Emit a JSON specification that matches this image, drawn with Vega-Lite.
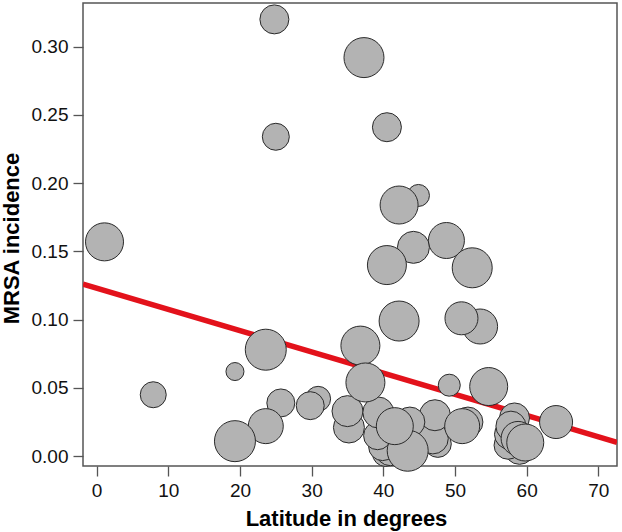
{
  "$schema": "https://vega.github.io/schema/vega-lite/v6.json",
  "width": 534,
  "height": 463,
  "autosize": {"type": "none"},
  "padding": {"left": 83, "top": 3, "right": 5, "bottom": 66},
  "background": "white",
  "config": {
    "view": {"stroke": "#555555", "strokeWidth": 1.5},
    "font": "Liberation Sans",
    "axis": {
      "domain": false,
      "grid": false,
      "tickColor": "#555555",
      "tickWidth": 1.3,
      "tickSize": 10,
      "labelFont": "Liberation Sans",
      "labelFontSize": 19,
      "labelColor": "#111111",
      "labelPadding": 5,
      "titleFont": "Liberation Sans",
      "titleFontSize": 22,
      "titleFontWeight": "bold",
      "titleColor": "#000000"
    }
  },
  "encoding": {
    "x": {
      "field": "lat",
      "type": "quantitative",
      "scale": {"domain": [-1.9, 72.6], "nice": false, "zero": false},
      "axis": {
        "title": "Latitude in degrees",
        "values": [0, 10, 20, 30, 40, 50, 60, 70],
        "format": "d",
        "titleX": 263,
        "titleY": 59,
        "titleBaseline": "alphabetic"
      }
    },
    "y": {
      "field": "mrsa",
      "type": "quantitative",
      "scale": {"domain": [-0.0072, 0.332], "nice": false, "zero": false},
      "axis": {
        "title": "MRSA incidence",
        "values": [0, 0.05, 0.1, 0.15, 0.2, 0.25, 0.3],
        "format": ".2f",
        "titleX": -65,
        "titleY": 235,
        "titleAngle": 270,
        "titleAlign": "center",
        "titleBaseline": "alphabetic"
      }
    }
  },
  "layer": [
    {
      "data": {"values": [
        {"lat": -1.9, "mrsa": 0.126},
        {"lat": 72.6, "mrsa": 0.0102}
      ]},
      "mark": {"type": "line", "color": "#e3121b", "strokeWidth": 5.5, "clip": true}
    },
    {
      "data": {"values": [
        {"lat": 24.8, "mrsa": 0.320, "d": 29},
        {"lat": 37.3, "mrsa": 0.292, "d": 40},
        {"lat": 25.0, "mrsa": 0.234, "d": 27},
        {"lat": 40.5, "mrsa": 0.241, "d": 29},
        {"lat": 1.1, "mrsa": 0.157, "d": 38},
        {"lat": 44.9, "mrsa": 0.191, "d": 22},
        {"lat": 42.2, "mrsa": 0.184, "d": 38},
        {"lat": 48.8, "mrsa": 0.158, "d": 36},
        {"lat": 44.2, "mrsa": 0.153, "d": 32},
        {"lat": 40.5, "mrsa": 0.140, "d": 39},
        {"lat": 52.4, "mrsa": 0.138, "d": 40},
        {"lat": 42.2, "mrsa": 0.099, "d": 40},
        {"lat": 53.5, "mrsa": 0.095, "d": 35},
        {"lat": 50.9, "mrsa": 0.101, "d": 33},
        {"lat": 23.6, "mrsa": 0.078, "d": 41},
        {"lat": 36.8, "mrsa": 0.081, "d": 39},
        {"lat": 19.3, "mrsa": 0.062, "d": 18},
        {"lat": 7.9, "mrsa": 0.045, "d": 26},
        {"lat": 49.2, "mrsa": 0.052, "d": 22},
        {"lat": 54.7, "mrsa": 0.051, "d": 38},
        {"lat": 25.7, "mrsa": 0.039, "d": 28},
        {"lat": 30.9, "mrsa": 0.042, "d": 25},
        {"lat": 29.8, "mrsa": 0.037, "d": 28},
        {"lat": 23.6, "mrsa": 0.022, "d": 35},
        {"lat": 19.3, "mrsa": 0.011, "d": 41},
        {"lat": 35.2, "mrsa": 0.021, "d": 31},
        {"lat": 35.0, "mrsa": 0.033, "d": 31},
        {"lat": 64.1, "mrsa": 0.025, "d": 33},
        {"lat": 40.3, "mrsa": 0.002, "d": 26},
        {"lat": 41.0, "mrsa": 0.004, "d": 30},
        {"lat": 39.9, "mrsa": 0.007, "d": 28},
        {"lat": 39.2, "mrsa": 0.015, "d": 28},
        {"lat": 39.3, "mrsa": 0.032, "d": 31},
        {"lat": 37.5, "mrsa": 0.054, "d": 39},
        {"lat": 45.0, "mrsa": 0.018, "d": 30},
        {"lat": 47.6, "mrsa": 0.009, "d": 27},
        {"lat": 46.9, "mrsa": 0.013, "d": 31},
        {"lat": 47.2, "mrsa": 0.030, "d": 31},
        {"lat": 51.8, "mrsa": 0.025, "d": 30},
        {"lat": 51.0, "mrsa": 0.022, "d": 35},
        {"lat": 43.7, "mrsa": 0.025, "d": 30},
        {"lat": 43.4, "mrsa": 0.004, "d": 41},
        {"lat": 41.6, "mrsa": 0.022, "d": 37},
        {"lat": 58.3, "mrsa": 0.028, "d": 30},
        {"lat": 59.0, "mrsa": 0.005, "d": 30},
        {"lat": 57.4, "mrsa": 0.008, "d": 28},
        {"lat": 57.6, "mrsa": 0.016, "d": 30},
        {"lat": 57.8, "mrsa": 0.022, "d": 30},
        {"lat": 58.8, "mrsa": 0.013, "d": 34},
        {"lat": 59.8, "mrsa": 0.010, "d": 37}
      ]},
      "mark": {"type": "point", "filled": true, "shape": "circle", "fill": "#b3b3b3", "stroke": "#2a2a2a", "strokeWidth": 1, "opacity": 1, "clip": false},
      "encoding": {
        "size": {
          "field": "d",
          "type": "quantitative",
          "scale": {"type": "pow", "exponent": 2, "domain": [0, 50], "range": [0, 2500]},
          "legend": null
        }
      }
    }
  ]
}
